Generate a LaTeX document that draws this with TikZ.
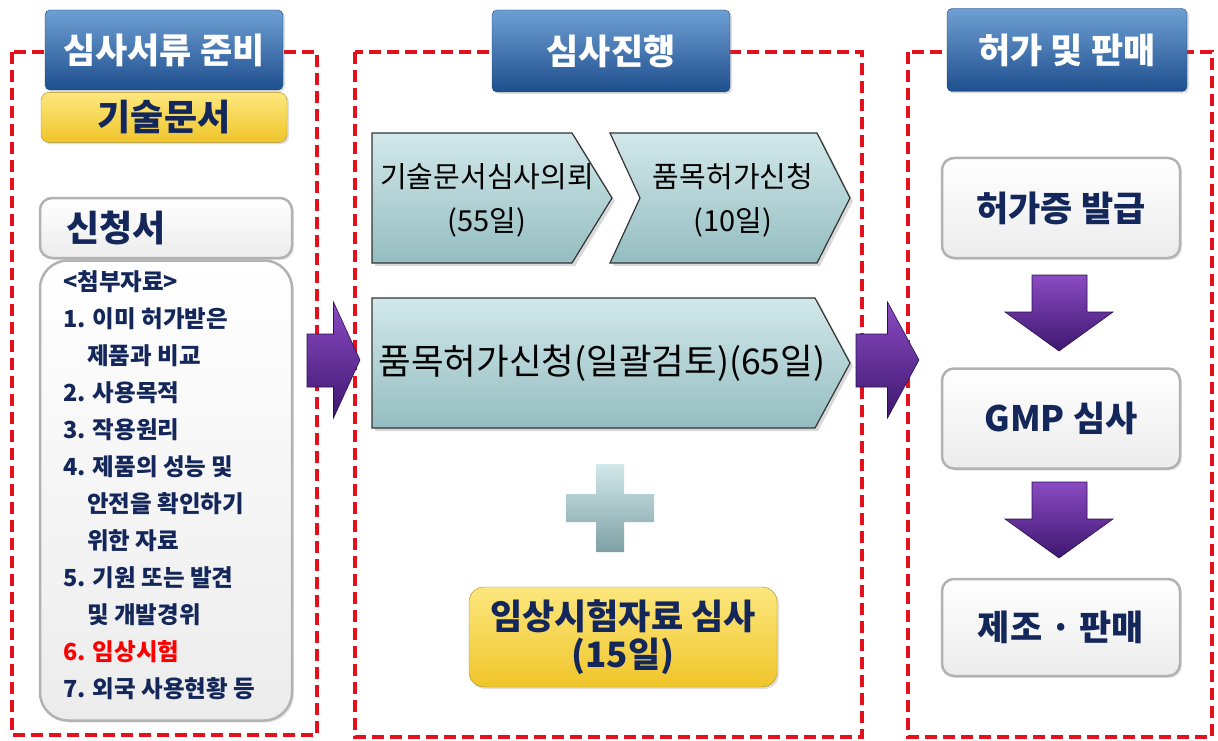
\documentclass[tikz,border=0pt]{standalone}
\usepackage{fontspec}
\setmainfont{Noto Sans CJK KR}
\usetikzlibrary{positioning,shadows}

\definecolor{navy}{HTML}{14275A}
\definecolor{hdtop}{HTML}{6E9FD3}
\definecolor{hdbot}{HTML}{1E4F8E}
\definecolor{ylwtop}{HTML}{FCE77E}
\definecolor{ylwbot}{HTML}{F0C52A}
\definecolor{chtop}{HTML}{D2E8EA}
\definecolor{chbot}{HTML}{94BDC1}
\definecolor{pptop}{HTML}{8A4BC2}
\definecolor{ppbot}{HTML}{3E1770}
\definecolor{dashred}{HTML}{E5101B}

\newcommand{\fsz}[2]{\fontsize{#1}{#2}\selectfont}

\tikzset{
  frame/.style={draw=dashred, line width=3.5pt, dash pattern=on 12pt off 6pt},
  head/.style={draw=hdbot!80!black, rounded corners=5pt, top color=hdtop, bottom color=hdbot,
    text=white, font=\bfseries\fsz{35}{38}, minimum width=238pt, minimum height=80pt, inner sep=0pt,
    drop shadow={opacity=0.25, shadow xshift=2pt, shadow yshift=-2pt}},
  tab/.style={draw=ylwbot!70!black, rounded corners=8pt, top color=ylwtop, bottom color=ylwbot,
    text=navy, font=\bfseries\fsz{36}{38}, inner sep=0pt, align=center,
    drop shadow={opacity=0.25, shadow xshift=2pt, shadow yshift=-2pt}},
  card/.style={draw=gray!60, line width=2.5pt, rounded corners=12pt, top color=white, bottom color=gray!15,
    text=navy, font=\bfseries\fsz{35}{38}, inner sep=0pt,
    drop shadow={opacity=0.2, shadow xshift=2pt, shadow yshift=-2pt}},
  chev/.style={draw=black!80, line width=1.2pt, top color=chtop, bottom color=chbot,
    drop shadow={opacity=0.3, shadow xshift=3pt, shadow yshift=-3pt}},
  chevtext/.style={font=\fsz{29}{44}, align=center, inner sep=0pt},
  fatarrow/.style={draw=ppbot!70!black, line width=0.6pt, top color=pptop, bottom color=ppbot},
}

\begin{document}
\begin{tikzpicture}[x=1pt, y=-1pt]
  \useasboundingbox (0,0) rectangle (1218,741);

  % dashed frames
  \draw[frame] (12,52) rectangle (317,735);
  \draw[frame] (355,52) rectangle (862,737);
  \draw[frame] (908,52) rectangle (1212,737);

  % column 1
  \node[head] (prep) at (164,50) {심사서류 준비};
  \node[tab, minimum width=246pt, minimum height=50pt, below=2pt of prep] (techdoc) {기술문서};
  \node[card, minimum width=252pt, minimum height=60pt, text width=200pt, inner xsep=26pt, align=left, font=\bfseries\fsz{36}{38}] (appform) at (166,228) {신청서};
  \node[card, rounded corners=28pt, minimum width=252pt, minimum height=460pt, below=0pt of appform] (attachbox) {};
  \node[anchor=north west, inner sep=0pt, align=left, text=navy, font=\bfseries\fsz{23.5}{37}] (attach) at (63,270)
    {<첨부자료>\\1. 이미 허가받은\\\hspace*{24pt}제품과 비교\\2. 사용목적\\3. 작용원리\\4. 제품의 성능 및\\%
     \hspace*{24pt}안전을 확인하기\\\hspace*{24pt}위한 자료\\5. 기원 또는 발견\\\hspace*{24pt}및 개발경위\\%
     \textcolor{red}{6. 임상시험}\\7. 외국 사용현황 등};

  % column 2
  \node[head, minimum height=82pt] (review) at (611,51) {심사진행};
  \path[chev] (372,133) -- (572,133) -- (612,198) -- (572,263) -- (372,263) -- cycle;
  \path[chev] (610,133) -- (817,133) -- (850,198) -- (817,263) -- (610,263) -- (640,198) -- cycle;
  \path[chev] (372,298) -- (815,298) -- (850,363) -- (815,428) -- (372,428) -- cycle;
  \node[chevtext] (askdoc) at (487,200) {기술문서심사의뢰\\(55일)};
  \node[chevtext] (apply) at (733,200) {품목허가신청\\(10일)};
  \node[chevtext, font=\fsz{35.5}{38}] (batch) at (602,363) {품목허가신청(일괄검토)(65일)};

  % plus sign
  \draw[white, line width=7pt, line join=round, drop shadow={opacity=0.3, shadow xshift=1pt, shadow yshift=-3pt}]
    (596,464) -- (624,464) -- (624,494) -- (654,494) -- (654,522) -- (624,522) -- (624,552) -- (596,552)
    -- (596,522) -- (566,522) -- (566,494) -- (596,494) -- cycle;
  \shade[top color=chtop, bottom color=chbot!85!black]
    (596,464) -- (624,464) -- (624,494) -- (654,494) -- (654,522) -- (624,522) -- (624,552) -- (596,552)
    -- (596,522) -- (566,522) -- (566,494) -- (596,494) -- cycle;

  \node[tab, rounded corners=15pt, minimum width=308pt, minimum height=100pt, font=\bfseries\fsz{35}{38}] (clin) at (623,637) {임상시험자료 심사\\(15일)};

  % column 3
  \node[head, minimum width=240pt, minimum height=83pt] (sales) at (1067,50) {허가 및 판매};
  \node[card, minimum width=238pt, minimum height=100pt] (permit) at (1061,208) {허가증 발급};
  \node[card, minimum width=238pt, minimum height=100pt, below=108pt of permit] (gmp) {GMP 심사};
  \node[card, minimum width=238pt, minimum height=97pt, below=108pt of gmp] (make) {제조 · 판매};

  % fat arrows
  \foreach \x/\l in {307/53, 856/63}
    \shade[fatarrow] (\x,334) -- ({\x+\l/2},334) -- ({\x+\l/2},302) -- ({\x+\l},360)
      -- ({\x+\l/2},418) -- ({\x+\l/2},387) -- (\x,387) -- cycle;
  \foreach \y in {275, 482}
    \shade[fatarrow] (1032,\y) -- (1087,\y) -- (1087,{\y+37}) -- (1113,{\y+37}) -- (1059,{\y+76})
      -- (1005,{\y+37}) -- (1032,{\y+37}) -- cycle;
\end{tikzpicture}
\end{document}
